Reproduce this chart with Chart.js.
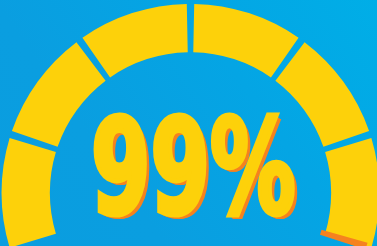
<!DOCTYPE html>
<html>
<head>
<meta charset="utf-8">
<script src="https://cdn.jsdelivr.net/npm/chart.js@4.4.0/dist/chart.umd.min.js"></script>
<style>
    html, body { margin: 0; padding: 0; }
    body {
        width: 377px; height: 246px; overflow: hidden; position: relative;
        background: linear-gradient(235deg, #00aee7 0%, #04a5e4 35%, #0a9ee0 70%, #0a9ddf 100%);
    }
    canvas { position: absolute; left: 0; top: 0; }
    #label {
        position: absolute; left: 91px; top: 101px;
        font-family: "DejaVu Sans Condensed", "DejaVu Sans", sans-serif;
        font-weight: bold; font-size: 132px; line-height: 1;
        color: #fdd10a;
        -webkit-text-stroke: 5px #fdd10a;
        text-shadow: 1px 1px 0 #f5821f, 2px 2px 0 #f5821f, 4px 3px 0 #f5821f, 5px 4px 0 #f5821f, 6px 4px 0 #f5821f;
        white-space: nowrap;
        transform: scaleX(0.72); transform-origin: left top;
    }
</style>
</head>
<body>
<canvas id="gauge" width="381" height="262"></canvas>
<canvas id="fill" width="381" height="258"></canvas>
<div id="label"></div>
<script>
// six equal segments of the gauge
const segments = [1, 1, 1, 1, 1, 1]
const value = 99
const rest = 100 - value

const yellow = '#fdd10a'
const orange = '#f5821f'

let baseOptions = {
    responsive: false,
    animation: false,
    rotation: -108,
    circumference: 216,
    plugins: { legend: { display: false }, tooltip: { enabled: false } },
    events: []
}

new Chart(document.getElementById('gauge').getContext('2d'), {
    type: 'doughnut',
    data: {
        labels: segments.map((s, i) => 'Segment ' + (i + 1)),
        datasets: [{
            data: segments,
            backgroundColor: yellow,
            borderWidth: 0
        }]
    },
    options: Object.assign({}, baseOptions, { spacing: 20, radius: 179, cutout: '73%' })
})

// the last 1% in orange, drawn over the end of the gauge
new Chart(document.getElementById('fill').getContext('2d'), {
    type: 'doughnut',
    data: {
        labels: ['Value', 'Rest'],
        datasets: [{
            data: [value, rest],
            backgroundColor: ['rgba(0,0,0,0)', orange],
            borderWidth: 0
        }]
    },
    options: Object.assign({}, baseOptions, { spacing: 0, radius: 184, cutout: '74%' })
})

document.getElementById('label').innerText = value + '%'
</script>
</body>
</html>
